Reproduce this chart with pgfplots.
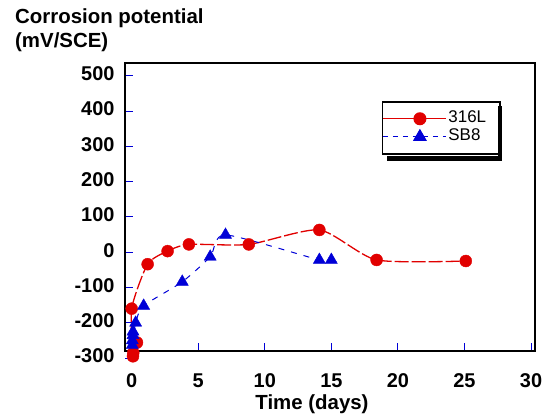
\documentclass[border=0pt]{standalone}
\usepackage{pgfplots}
\pgfplotsset{compat=1.18}
\usepackage{fontspec}
\setmainfont{Liberation Sans}
\definecolor{myred}{RGB}{225,0,0}
\definecolor{myblue}{RGB}{0,0,215}
\pgfplotstableread{
x y
0.10 -295
0.12 -285
0.40 -256
0.00 -160
1.20 -34
2.70 3
4.30 22
8.80 22
14.10 63
18.40 -22
25.10 -25
}\redmarks
\pgfplotstableread{
x y
0.10 -295
0.00 -160
1.20 -34
2.70 3
4.30 22
8.80 22
14.10 63
18.40 -22
25.10 -25
}\redline
\pgfplotstableread{
x y
0.05 -263
0.05 -250
0.10 -235
0.10 -225
0.30 -200
0.90 -152
3.80 -84
5.90 -13
7.05 49
14.10 -22
15.00 -22
}\bluemarks
\pgfplotstableread{
x y
0.05 -263
0.30 -200
0.90 -152
3.80 -84
5.90 -13
7.05 49
14.10 -22
15.00 -22
}\blueline
\begin{document}
\begin{tikzpicture}
\path[use as bounding box] (0,0) rectangle (542bp,-415bp);
\node[anchor=north west, align=left, font=\fontsize{20.5}{24}\selectfont\bfseries, inner sep=0] at (15bp,-9bp) {Corrosion potential\\(mV/SCE)};
\begin{axis}[
 at={(125bp,-351bp)}, anchor=south west,
 scale only axis, width=410bp, height=288bp,
 xmin=-0.5, xmax=30.3, ymin=-280, ymax=536,
 xtick={0,5,...,30}, ytick={-200,-100,...,500},
 tick align=inside, xtick pos=bottom, ytick pos=left,
 major tick length=8bp, tick style={myblue, line width=1bp},
 axis line style={line width=2bp},
 ticklabel style={font=\fontsize{20}{20}\selectfont\bfseries},
 /pgf/number format/assume math mode=true,
 xticklabel style={yshift=-19bp},
 yticklabel style={xshift=-7bp, yshift=2bp},
 xlabel={Time (days)},
 xlabel style={font=\fontsize{20.5}{20.5}\selectfont\bfseries, yshift=0bp, xshift=-18bp},
 clip=false,
 legend cell align=left,
 legend style={at={(0.626,0.868)}, anchor=north west, draw=black, fill=white, line width=1.5bp,
   font=\fontsize{17}{17}\selectfont, row sep=2bp, inner xsep=0bp, inner ysep=9bp,
   nodes={inner xsep=2bp, inner ysep=0bp, text height=12bp, text depth=4bp}},
 legend image code/.code={\draw[mark repeat=2,mark phase=2,#1] plot coordinates {(0bp,0bp)(37bp,0bp)(63bp,0bp)};},
]
\addplot[myred, line width=1.3bp, smooth, tension=0.4, dash pattern=on 14bp off 3bp, forget plot] table {\redline};
\addplot[only marks, mark=*, mark size=6bp, myred, forget plot] table {\redmarks};
\addplot[myblue, line width=1bp, smooth, tension=0.4, dash pattern=on 6bp off 7bp, forget plot] table {\blueline};
\addplot[only marks, mark=triangle*, mark size=7bp, myblue, forget plot] table {\bluemarks};
\addlegendimage{myred, line width=1bp, solid, mark=*, mark size=6bp, mark options={solid}}
\addlegendentry{316L\kern12bp}
\addlegendimage{myblue, line width=1bp, dash pattern=on 5bp off 5bp, mark=triangle*, mark size=7bp, mark options={solid}}
\addlegendentry{SB8\kern12bp}
\draw[myblue, line width=1bp] (axis cs:-0.5,-300) -- ([xshift=8bp]axis cs:-0.5,-300);
\node[anchor=east, font=\fontsize{20}{20}\selectfont\bfseries, inner sep=3.33bp, xshift=-7bp, yshift=2bp] at (axis cs:-0.5,-300) {-300};
\end{axis}
% legend drop shadow strips (right and bottom of the legend box)
\fill[black] (387bp,-156bp) rectangle (502bp,-160.5bp);
\fill[black] (498bp,-106bp) rectangle (502bp,-160.5bp);
\end{tikzpicture}
\end{document}
